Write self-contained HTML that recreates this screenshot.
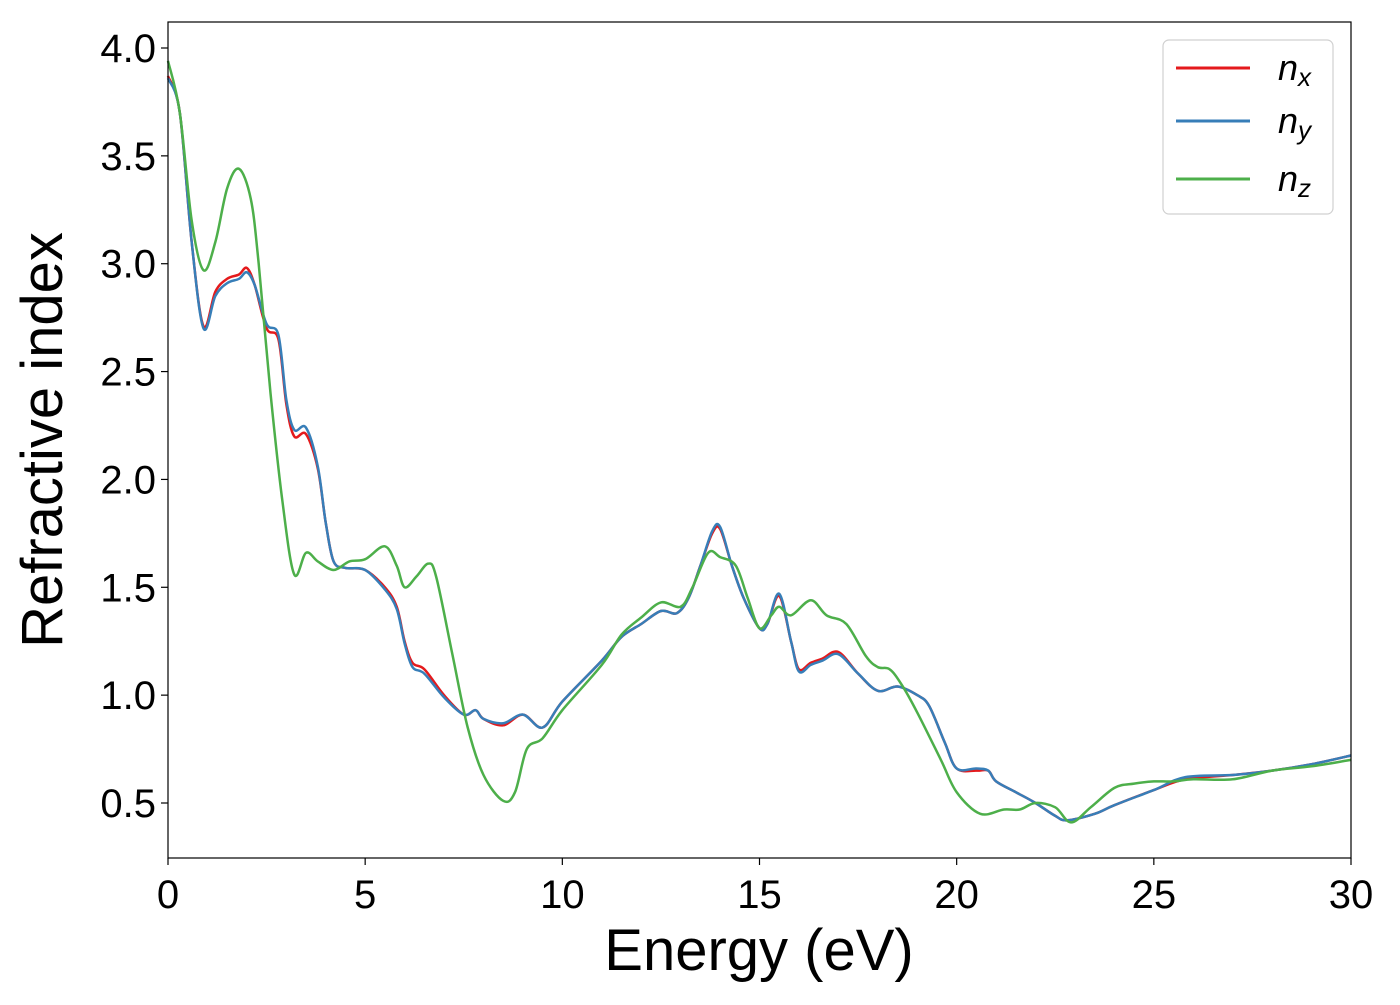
<!DOCTYPE html>
<html><head><meta charset="utf-8"><style>
body{margin:0;background:#fff;}
svg text{font-family:"Liberation Sans","DejaVu Sans",sans-serif;fill:#000;}
</style></head><body>
<svg id="chart" width="1400" height="1000" xmlns="http://www.w3.org/2000/svg">
<rect x="0" y="0" width="1400" height="1000" fill="#fff"/>
<g id="series"></g>
<rect x="168" y="22" width="1183" height="836" fill="none" stroke="#000" stroke-width="1.2"/>
<g id="xticks"></g><g id="yticks"></g>
<text x="759" y="970" font-size="58" text-anchor="middle">Energy (eV)</text>
<text transform="translate(62,440) rotate(-90)" font-size="58" text-anchor="middle">Refractive index</text>
<g>
<rect x="1163" y="40" width="170" height="174" rx="6" fill="#fff" stroke="#d0d0d0" stroke-width="1.2"/>
<line x1="1176" y1="68" x2="1250" y2="68" stroke="#e41a1c" stroke-width="3"/>
<text x="1278" y="80" font-size="36" font-style="italic">n<tspan font-size="26" dy="6">x</tspan></text>
<line x1="1176" y1="121" x2="1250" y2="121" stroke="#377eb8" stroke-width="3"/>
<text x="1278" y="133" font-size="36" font-style="italic">n<tspan font-size="26" dy="6">y</tspan></text>
<line x1="1176" y1="179" x2="1250" y2="179" stroke="#4daf4a" stroke-width="3"/>
<text x="1278" y="191" font-size="36" font-style="italic">n<tspan font-size="26" dy="6">z</tspan></text>
</g>
</svg>
<script>
const xTicks=[0,5,10,15,20,25,30];
const yTicks=[0.5,1.0,1.5,2.0,2.5,3.0,3.5,4.0];
const energyX=[0,0.3,0.6,0.9,1.2,1.5,1.8,2.0,2.2,2.5,2.8,3.0,3.2,3.5,3.8,4.0,4.2,4.5,5.0,5.5,5.8,6.0,6.2,6.5,7.0,7.5,7.8,8.0,8.5,9.0,9.5,10,11,11.5,12,12.5,12.9,13.2,13.5,13.8,14.0,14.3,14.6,15,15.2,15.5,15.8,16.0,16.3,16.6,17.0,17.5,18,18.5,19,19.3,19.7,20,20.5,20.8,21.0,21.5,22,22.5,22.8,23.5,24,25,25.8,27,28,29,30];
const nxValues=[3.87,3.7,3.1,2.71,2.87,2.93,2.95,2.98,2.9,2.7,2.65,2.35,2.2,2.21,2.05,1.8,1.62,1.59,1.58,1.5,1.41,1.25,1.15,1.12,1.0,0.91,0.93,0.89,0.86,0.91,0.85,0.97,1.16,1.27,1.33,1.39,1.38,1.45,1.6,1.75,1.77,1.6,1.45,1.31,1.33,1.46,1.25,1.12,1.15,1.17,1.2,1.1,1.02,1.04,1.0,0.95,0.78,0.66,0.65,0.65,0.6,0.55,0.5,0.44,0.42,0.45,0.49,0.56,0.61,0.63,0.65,0.68,0.72];
const nyValues=[3.86,3.7,3.1,2.7,2.85,2.91,2.93,2.96,2.9,2.72,2.67,2.37,2.23,2.24,2.06,1.8,1.62,1.59,1.58,1.49,1.4,1.24,1.13,1.1,0.99,0.91,0.93,0.89,0.87,0.91,0.85,0.97,1.16,1.27,1.33,1.39,1.38,1.45,1.6,1.76,1.78,1.6,1.45,1.31,1.33,1.47,1.25,1.11,1.14,1.16,1.19,1.1,1.02,1.04,1.0,0.95,0.78,0.66,0.66,0.65,0.6,0.55,0.5,0.44,0.42,0.45,0.49,0.56,0.62,0.63,0.65,0.68,0.72];
const energyZ=[0,0.3,0.6,0.9,1.2,1.5,1.8,2.1,2.3,2.6,2.9,3.2,3.5,3.8,4.2,4.6,5.0,5.5,5.8,6.0,6.3,6.6,6.8,7.2,7.6,8.0,8.5,8.8,9.1,9.5,10,11,11.5,12,12.5,13,13.3,13.7,14.0,14.4,14.7,15,15.3,15.5,15.8,16.3,16.7,17.2,17.7,18.0,18.3,18.6,19.0,19.6,20.0,20.6,21.2,21.6,22,22.5,22.9,23.4,24,24.5,25,25.5,26,27,28,29,30];
const nzValues=[3.94,3.7,3.2,2.97,3.1,3.35,3.44,3.3,3.0,2.4,1.9,1.56,1.66,1.62,1.58,1.62,1.63,1.69,1.6,1.5,1.55,1.61,1.55,1.2,0.85,0.63,0.51,0.55,0.75,0.8,0.93,1.14,1.28,1.36,1.43,1.41,1.5,1.66,1.64,1.6,1.45,1.31,1.37,1.41,1.37,1.44,1.37,1.33,1.18,1.13,1.12,1.05,0.92,0.7,0.55,0.45,0.47,0.47,0.5,0.48,0.41,0.48,0.57,0.59,0.6,0.6,0.61,0.61,0.65,0.67,0.7];

const X0=168,X1=1351,XMIN=0,XMAX=30;
const YA=48,YB=803,VA=4.0,VB=0.5;
function xs(v){return X0+(v-XMIN)/(XMAX-XMIN)*(X1-X0);}
function ys(v){return YA+(VA-v)/(VA-VB)*(YB-YA);}
const NS="http://www.w3.org/2000/svg";
function mk(t,a){const e=document.createElementNS(NS,t);for(const k in a)e.setAttribute(k,a[k]);return e;}
function pathD(xv,yv){
  const p=xv.map((x,i)=>[xs(x),ys(yv[i])]);
  let d="M"+p[0][0].toFixed(1)+","+p[0][1].toFixed(1);
  for(let i=0;i<p.length-1;i++){
    const p0=p[Math.max(0,i-1)],p1=p[i],p2=p[i+1],p3=p[Math.min(p.length-1,i+2)];
    const c1=[p1[0]+(p2[0]-p0[0])/6,p1[1]+(p2[1]-p0[1])/6];
    const c2=[p2[0]-(p3[0]-p1[0])/6,p2[1]-(p3[1]-p1[1])/6];
    d+="C"+c1[0].toFixed(1)+","+c1[1].toFixed(1)+" "+c2[0].toFixed(1)+","+c2[1].toFixed(1)+" "+p2[0].toFixed(1)+","+p2[1].toFixed(1);
  }
  return d;
}
const sg=document.getElementById("series");
const lx=mk("path",{d:pathD(energyX,nxValues),fill:"none",stroke:"#e41a1c","stroke-width":2.5});


sg.appendChild(lx);
const ly=mk("path",{d:pathD(energyX,nyValues),fill:"none",stroke:"#377eb8","stroke-width":2.5});


sg.appendChild(ly);
const lz=mk("path",{d:pathD(energyZ,nzValues),fill:"none",stroke:"#4daf4a","stroke-width":2.5});


sg.appendChild(lz);

const xg=document.getElementById("xticks");
xTicks.forEach(t=>{
  const l=mk("line",{x1:xs(t),x2:xs(t),y1:858,y2:865,stroke:"#000","stroke-width":1.2});
  
  
  xg.appendChild(l);
  const tx=mk("text",{x:xs(t),y:908,"font-size":40,"text-anchor":"middle"});
  
  
  tx.textContent=String(t);xg.appendChild(tx);
});
const yg=document.getElementById("yticks");
yTicks.forEach(t=>{
  const l=mk("line",{x1:161,x2:168,y1:ys(t),y2:ys(t),stroke:"#000","stroke-width":1.2});
  
  
  yg.appendChild(l);
  const tx=mk("text",{x:156,y:ys(t)+14,"font-size":40,"text-anchor":"end"});
  
  
  tx.textContent=t.toFixed(1);yg.appendChild(tx);
});
</script>
</body></html>
